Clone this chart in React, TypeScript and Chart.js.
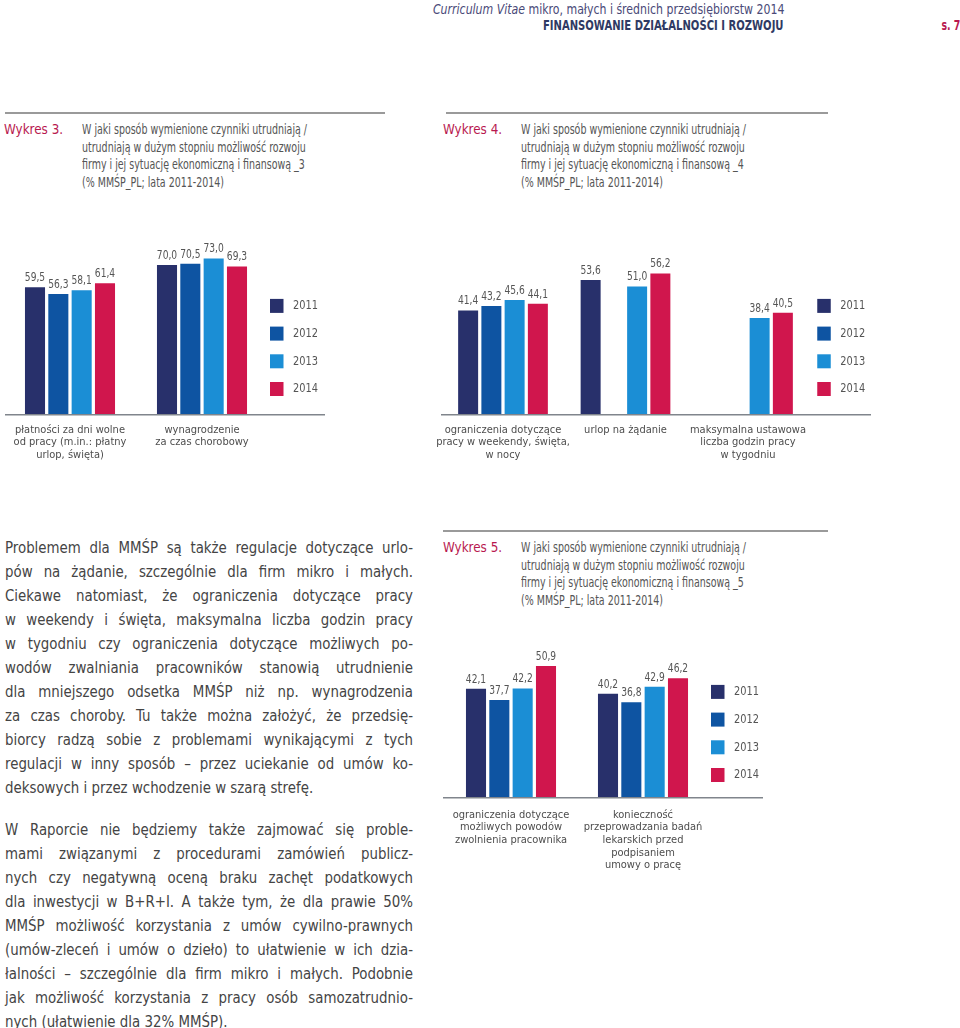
import React, { useEffect, useRef } from "react";
import { Chart, registerables } from "chart.js";

Chart.register(...registerables);

const FONT = '"Liberation Sans Narrow", "Arial Narrow", "DejaVu Sans Condensed", "Roboto Condensed", Roboto, sans-serif';

// ---------- data ----------
const YEARS = ["2011", "2012", "2013", "2014"];
const COLORS = ["#28306b", "#0e54a2", "#1b8ed5", "#d0164d"];

const CATS_W3 = [
  ["płatności za dni wolne", "od pracy (m.in.: płatny", "urlop, święta)"],
  ["wynagrodzenie", "za czas chorobowy"],
];
const W3_2011 = [59.5, 70.0];
const W3_2012 = [56.3, 70.5];
const W3_2013 = [58.1, 73.0];
const W3_2014 = [61.4, 69.3];

const CATS_W4 = [
  ["ograniczenia dotyczące", "pracy w weekendy, święta,", "w nocy"],
  ["urlop na żądanie"],
  ["maksymalna ustawowa", "liczba godzin pracy", "w tygodniu"],
];
const W4_2011 = [41.4, 53.6, null];
const W4_2012 = [43.2, null, null];
const W4_2013 = [45.6, 51.0, 38.4];
const W4_2014 = [44.1, 56.2, 40.5];

const CATS_W5 = [
  ["ograniczenia dotyczące", "możliwych powodów", "zwolnienia pracownika"],
  ["konieczność", "przeprowadzania badań", "lekarskich przed", "podpisaniem", "umowy o pracę"],
];
const W5_2011 = [42.1, 40.2];
const W5_2012 = [37.7, 36.8];
const W5_2013 = [42.2, 42.9];
const W5_2014 = [50.9, 46.2];

const TITLE_LINES = [
  "W jaki sposób wymienione czynniki utrudniają /",
  "utrudniają w dużym stopniu możliwość rozwoju",
  "firmy i jej sytuację ekonomiczną i finansową _",
  "(% MMŚP_PL; lata 2011-2014)",
];

const PARA1 = [
  "Problemem dla MMŚP są także regulacje dotyczące urlo-",
  "pów na żądanie, szczególnie dla firm mikro i małych.",
  "Ciekawe natomiast, że ograniczenia dotyczące pracy",
  "w weekendy i święta, maksymalna liczba godzin pracy",
  "w tygodniu czy ograniczenia dotyczące możliwych po-",
  "wodów zwalniania pracowników stanowią utrudnienie",
  "dla mniejszego odsetka MMŚP niż np. wynagrodzenia",
  "za czas choroby. Tu także można założyć, że przedsię-",
  "biorcy radzą sobie z problemami wynikającymi z tych",
  "regulacji w inny sposób – przez uciekanie od umów ko-",
  "deksowych i przez wchodzenie w szarą strefę.",
];
const PARA2 = [
  "W Raporcie nie będziemy także zajmować się proble-",
  "mami związanymi z procedurami zamówień publicz-",
  "nych czy negatywną oceną braku zachęt podatkowych",
  "dla inwestycji w B+R+I. A także tym, że dla prawie 50%",
  "MMŚP możliwość korzystania z umów cywilno-prawnych",
  "(umów-zleceń i umów o dzieło) to ułatwienie w ich dzia-",
  "łalności – szczególnie dla firm mikro i małych. Podobnie",
  "jak możliwość korzystania z pracy osób samozatrudnio-",
  "nych (ułatwienie dla 32% MMŚP).",
];

// ---------- plugins ----------
function makePlugins(cfg: any) {
  const valueLabels = {
    id: "valueLabels",
    afterDatasetsDraw(chart: any) {
      const ctx = chart.ctx;
      chart.data.datasets.forEach((ds: any, i: number) => {
        const meta = chart.getDatasetMeta(i);
        meta.data.forEach((bar: any, j: number) => {
          const v = ds.data[j];
          if (v == null) return;
          ctx.save();
          ctx.font = `13px ${FONT}`;
          ctx.fillStyle = "#555";
          ctx.textAlign = "center";
          ctx.textBaseline = "bottom";
          ctx.translate(bar.x, bar.y - 3);
          ctx.scale(0.78, 1);
          ctx.fillText(v.toFixed(1).replace(".", ","), 0, 0);
          ctx.restore();
        });
      });
    },
  };
  const baseline = {
    id: "baseline",
    afterDraw(chart: any) {
      const ctx = chart.ctx;
      const y = chart.chartArea.bottom + 0.75;
      ctx.save();
      ctx.strokeStyle = "#80858c";
      ctx.lineWidth = 1.5;
      ctx.beginPath();
      ctx.moveTo(cfg.lineFrom, y);
      ctx.lineTo(cfg.lineTo, y);
      ctx.stroke();
      ctx.restore();
    },
  };
  const yearLegend = {
    id: "yearLegend",
    afterDraw(chart: any) {
      const ctx = chart.ctx;
      const { right, bottom } = chart.chartArea;
      const n = chart.data.datasets.length;
      const step = 27.7;
      chart.data.datasets.forEach((ds: any, i: number) => {
        const yBottom = bottom - cfg.legendGap - (n - 1 - i) * step;
        const x = right + cfg.legendDx;
        ctx.save();
        ctx.fillStyle = ds.backgroundColor;
        ctx.fillRect(x, yBottom - 14, 13.5, 14);
        ctx.font = `13px ${FONT}`;
        ctx.textAlign = "left";
        ctx.textBaseline = "middle";
        ctx.fillStyle = "#555";
        ctx.translate(x + 23, yBottom - 7);
        ctx.scale(0.84, 1);
        ctx.fillText(ds.label, 0, 0);
        ctx.restore();
      });
    },
  };
  return [valueLabels, baseline, yearLegend];
}

type BarProps = {
  left: number;
  top: number;
  width: number;
  height: number;
  labels: any[];
  series: (number | null)[][];
  yMax: number;
  catPct: number;
  pad: { left: number; right: number; top: number; bottom: number };
  axisH: number;
  tickGap: number;
  lineFrom: number;
  lineTo: number;
  legendDx: number;
  legendGap: number;
};

function BarChart(p: BarProps) {
  const ref = useRef<HTMLCanvasElement | null>(null);
  useEffect(() => {
    if (!ref.current) return;
    const chart = new Chart(ref.current, {
      type: "bar",
      data: {
        labels: p.labels,
        datasets: p.series.map((d, i) => ({
          label: YEARS[i],
          data: d,
          backgroundColor: COLORS[i],
          borderWidth: 0,
          categoryPercentage: p.catPct,
          barPercentage: 0.86,
        })),
      },
      options: {
        responsive: false,
        maintainAspectRatio: false,
        animation: false,
        layout: { padding: p.pad },
        plugins: {
          legend: { display: false },
          tooltip: { enabled: false },
          title: { display: false },
        },
        scales: {
          x: {
            grid: { display: false, drawTicks: true, tickLength: p.tickGap },
            border: { display: false },
            ticks: {
              font: { family: FONT, size: 11, lineHeight: 1.15 },
              color: "#4d4d4d",
              padding: 0,
              maxRotation: 0,
              minRotation: 0,
              autoSkip: false,
            },
            afterFit: (s: any) => {
              s.height = p.axisH;
            },
          },
          y: { display: false, min: 0, max: p.yMax },
        },
      } as any,
      plugins: makePlugins({
        lineFrom: p.lineFrom,
        lineTo: p.lineTo,
        legendDx: p.legendDx,
        legendGap: p.legendGap,
      }),
    });
    return () => chart.destroy();
  }, []);
  return (
    <canvas
      ref={ref}
      width={p.width}
      height={p.height}
      style={{ position: "absolute", left: p.left, top: p.top, width: p.width, height: p.height }}
    />
  );
}

const CRIMSON = "#b8194f";
const GREY = "#555";

function Line(props: {
  x: number;
  cy: number;
  lh: number;
  size: number;
  color: string;
  children: any;
  bold?: boolean;
  right?: boolean;
  sx?: number;
}) {
  const sx = props.sx ?? 1;
  const style: any = {
    position: "absolute",
    top: props.cy - props.lh / 2,
    lineHeight: props.lh + "px",
    fontSize: props.size,
    color: props.color,
    whiteSpace: "nowrap",
    fontWeight: props.bold ? "bold" : "normal",
    transform: `scaleX(${sx})`,
    transformOrigin: props.right ? "right center" : "left center",
  };
  if (props.right) style.right = 960 - props.x;
  else style.left = props.x;
  return <div style={style}>{props.children}</div>;
}

function Title({ x, cy, num }: { x: number; cy: number; num: number }) {
  const lh = 17.5;
  return (
    <>
      <Line x={x} cy={cy} lh={lh} size={14} color={CRIMSON} sx={0.95}>{`Wykres ${num}.`}</Line>
      {TITLE_LINES.map((t, i) => (
        <Line key={i} x={x + 78} cy={cy + i * lh} lh={lh} size={13.5} color={GREY} sx={0.78}>
          {i === 2 ? t + num : t}
        </Line>
      ))}
    </>
  );
}

function Para({ lines, cy0 }: { lines: string[]; cy0: number }) {
  const s = 0.9;
  return (
    <>
      {lines.map((t, i) => {
        const last = i === lines.length - 1;
        return (
          <div
            key={i}
            style={{
              position: "absolute",
              left: 5,
              width: 408 / s,
              top: cy0 + i * 24 - 12,
              lineHeight: "24px",
              fontSize: 16.5,
              color: "#444",
              textAlign: last ? "left" : "justify",
              textAlignLast: last ? "left" : "justify",
              transform: `scaleX(${s})`,
              transformOrigin: "left center",
            } as any}
          >
            {t}
          </div>
        );
      })}
    </>
  );
}

export default function App() {
  return (
    <div
      style={{
        position: "absolute",
        left: 0,
        top: 0,
        width: 960,
        height: 1028,
        overflow: "hidden",
        background: "#fff",
        fontFamily: FONT,
      }}
    >
      {/* header */}
      <Line x={784} cy={9} lh={16} size={14.5} color="#4a4a78" right sx={0.84}>
        <i>Curriculum Vitae</i> mikro, małych i średnich przedsiębiorstw 2014
      </Line>
      <Line x={784} cy={25} lh={16} size={14.5} color="#2f3a64" bold right sx={0.77}>
        FINANSOWANIE DZIAŁALNOŚCI I ROZWOJU
      </Line>
      <Line x={960} cy={25} lh={16} size={14.5} color={CRIMSON} bold right sx={0.72}>
        s. 7
      </Line>

      {/* rules */}
      <div style={{ position: "absolute", left: 5, top: 112, width: 380, height: 2, background: "#9a9a9a" }} />
      <div style={{ position: "absolute", left: 446, top: 112, width: 382, height: 2, background: "#9a9a9a" }} />
      <div style={{ position: "absolute", left: 443, top: 530, width: 385, height: 2, background: "#9a9a9a" }} />

      <Title x={4} cy={130} num={3} />
      <Title x={443} cy={130} num={4} />
      <Title x={443} cy={548} num={5} />

      <BarChart
        left={0}
        top={222}
        width={328}
        height={244}
        labels={CATS_W3}
        series={[W3_2011, W3_2012, W3_2013, W3_2014]}
        yMax={84.5}
        catPct={0.707}
        pad={{ left: 4, right: 60, top: 12, bottom: 2 }}
        axisH={50}
        tickGap={9.5}
        lineFrom={5}
        lineTo={325}
        legendDx={2}
        legendGap={18}
      />
      <BarChart
        left={425}
        top={222}
        width={450}
        height={244}
        labels={CATS_W4}
        series={[W4_2011, W4_2012, W4_2013, W4_2014]}
        yMax={72}
        catPct={0.759}
        pad={{ left: 16.75, right: 65.75, top: 12, bottom: 2 }}
        axisH={50}
        tickGap={9.5}
        lineFrom={16}
        lineTo={446}
        legendDx={8}
        legendGap={18}
      />
      <BarChart
        left={440}
        top={605}
        width={328}
        height={269}
        labels={CATS_W5}
        series={[W5_2011, W5_2012, W5_2013, W5_2014]}
        yMax={70}
        catPct={0.707}
        pad={{ left: 5, right: 59, top: 12, bottom: 2 }}
        axisH={75}
        tickGap={11.5}
        lineFrom={3}
        lineTo={323}
        legendDx={2}
        legendGap={15}
      />

      <Para lines={PARA1} cy0={548} />
      <Para lines={PARA2} cy0={830} />
    </div>
  );
}
